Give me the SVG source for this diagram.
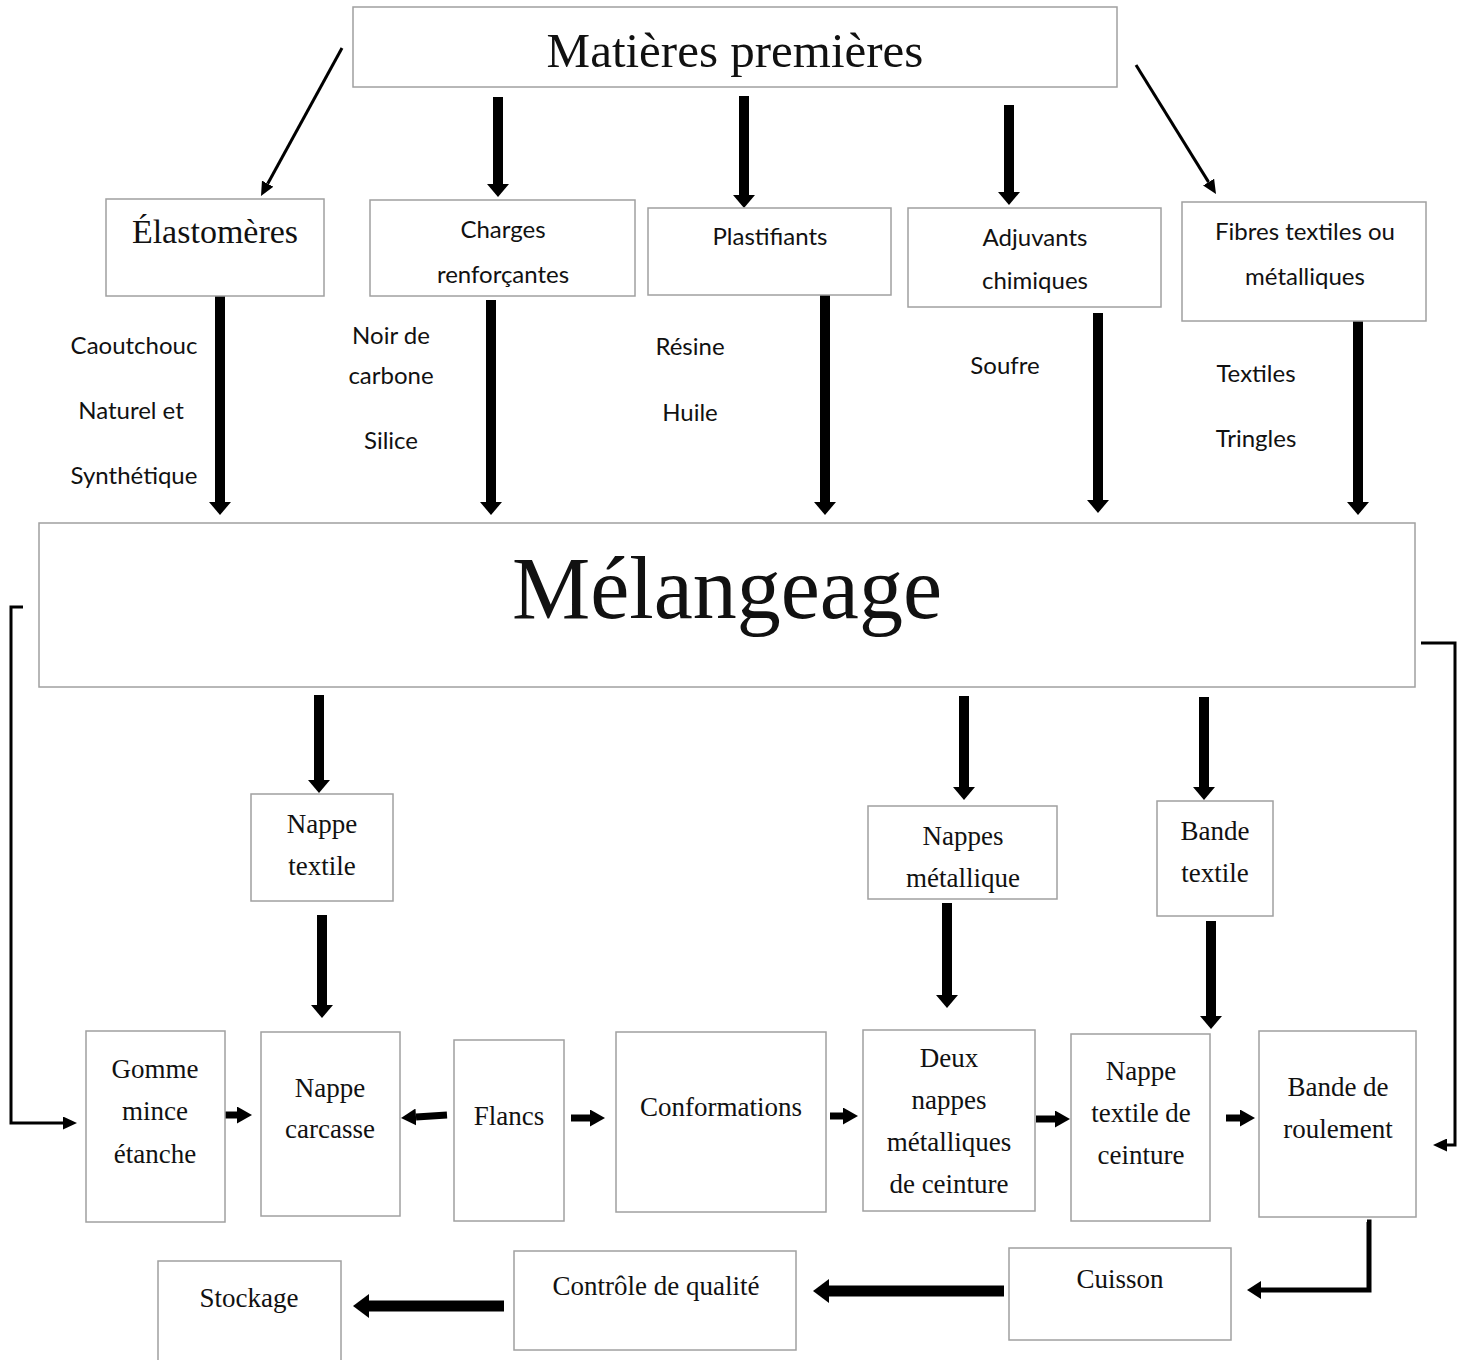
<svg xmlns="http://www.w3.org/2000/svg" width="1464" height="1360" viewBox="0 0 1464 1360">
<style>
.box{fill:#fff;stroke:#a0a0a0;stroke-width:1.5}
.serif{font-family:"Liberation Serif","Times New Roman",serif;fill:#111;text-anchor:middle}
.sans{font-family:Lato,"Liberation Sans",sans-serif;fill:#111;text-anchor:middle;font-size:24px}
.s27{font-size:27px}
.thick{stroke:#000;stroke-width:10;fill:none}
.small{stroke:#000;stroke-width:7;fill:none}
.big{stroke:#000;stroke-width:11;fill:none}
.thin{stroke:#000;stroke-width:3;fill:none}
.mid{stroke:#000;stroke-width:5;fill:none}
</style>
<defs>
<marker id="hThick" markerUnits="userSpaceOnUse" markerWidth="13" markerHeight="22" viewBox="0 0 13 22" refX="0" refY="11" orient="auto"><path d="M0,0 L13,11 L0,22 Z" fill="#000"/></marker>
<marker id="hSmall" markerUnits="userSpaceOnUse" markerWidth="15" markerHeight="17" viewBox="0 0 15 17" refX="0" refY="8.5" orient="auto"><path d="M0,0 L15,8.5 L0,17 Z" fill="#000"/></marker>
<marker id="hBig" markerUnits="userSpaceOnUse" markerWidth="16" markerHeight="24" viewBox="0 0 16 24" refX="0" refY="12" orient="auto"><path d="M0,0 L16,12 L0,24 Z" fill="#000"/></marker>
<marker id="hThin" markerUnits="userSpaceOnUse" markerWidth="14" markerHeight="13" viewBox="0 0 14 13" refX="0" refY="6.5" orient="auto"><path d="M0,0 L14,6.5 L0,13 Z" fill="#000"/></marker>
<marker id="hMid" markerUnits="userSpaceOnUse" markerWidth="14" markerHeight="18" viewBox="0 0 14 18" refX="0" refY="9" orient="auto"><path d="M0,0 L14,9 L0,18 Z" fill="#000"/></marker>
</defs>

<g id="connectors">
<line class="thin" x1="342" y1="48" x2="267.7" y2="183.7" marker-end="url(#hThin)"/>
<line class="thin" x1="1136" y1="65" x2="1208.6" y2="182.1" marker-end="url(#hThin)"/>
<line class="thick" x1="498" y1="97" x2="498" y2="184" marker-end="url(#hThick)"/>
<line class="thick" x1="744" y1="96" x2="744" y2="195" marker-end="url(#hThick)"/>
<line class="thick" x1="1009" y1="105" x2="1009" y2="192" marker-end="url(#hThick)"/>
<line class="thick" x1="220" y1="294" x2="220" y2="502" marker-end="url(#hThick)"/>
<line class="thick" x1="491" y1="300" x2="491" y2="502" marker-end="url(#hThick)"/>
<line class="thick" x1="825" y1="293" x2="825" y2="502" marker-end="url(#hThick)"/>
<line class="thick" x1="1098" y1="313" x2="1098" y2="500" marker-end="url(#hThick)"/>
<line class="thick" x1="1358" y1="315" x2="1358" y2="502" marker-end="url(#hThick)"/>
<line class="thick" x1="319" y1="695" x2="319" y2="780" marker-end="url(#hThick)"/>
<line class="thick" x1="964" y1="696" x2="964" y2="787" marker-end="url(#hThick)"/>
<line class="thick" x1="1204" y1="697" x2="1204" y2="787" marker-end="url(#hThick)"/>
<line class="thick" x1="322" y1="915" x2="322" y2="1005" marker-end="url(#hThick)"/>
<line class="thick" x1="947" y1="903" x2="947" y2="995" marker-end="url(#hThick)"/>
<line class="thick" x1="1211" y1="921" x2="1211" y2="1016" marker-end="url(#hThick)"/>
<polyline class="thin" points="23,607 11,607 11,1123 63,1123" marker-end="url(#hThin)"/>
<polyline class="thin" points="1421,643 1455,643 1455,1145 1447,1145" marker-end="url(#hThin)"/>
<polyline class="mid" points="1367,1222 1369,1222 1369,1290 1261,1290" marker-end="url(#hMid)"/>
<line class="small" x1="220" y1="1115" x2="237" y2="1115" marker-end="url(#hSmall)"/>
<line class="small" x1="447" y1="1115" x2="416" y2="1117" marker-end="url(#hSmall)"/>
<line class="small" x1="571" y1="1118" x2="590" y2="1118" marker-end="url(#hSmall)"/>
<line class="small" x1="830" y1="1116" x2="843" y2="1116" marker-end="url(#hSmall)"/>
<line class="small" x1="1036" y1="1119" x2="1055" y2="1119" marker-end="url(#hSmall)"/>
<line class="small" x1="1226" y1="1118" x2="1240" y2="1118" marker-end="url(#hSmall)"/>
<line class="big" x1="1004" y1="1291" x2="829" y2="1291" marker-end="url(#hBig)"/>
<line class="big" x1="504" y1="1306" x2="369" y2="1306" marker-end="url(#hBig)"/>
</g>

<g id="n-matieres"><rect class="box" x="353" y="7" width="764" height="80"/><text class="serif" x="735" y="67" font-size="49">Matières premières</text></g>
<g id="n-elastomeres"><rect class="box" x="106" y="199" width="218" height="97"/><text class="serif" x="215" y="243" font-size="34">Élastomères</text></g>
<g id="n-charges"><rect class="box" x="370" y="200" width="265" height="96"/><text class="sans" x="503" y="238">Charges</text><text class="sans" x="503" y="283">renforçantes</text></g>
<g id="n-plastifiants"><rect class="box" x="648" y="208" width="243" height="87"/><text class="sans" x="770" y="245">Plastifiants</text></g>
<g id="n-adjuvants"><rect class="box" x="908" y="208" width="253" height="99"/><text class="sans" x="1035" y="246">Adjuvants</text><text class="sans" x="1035" y="289">chimiques</text></g>
<g id="n-fibres"><rect class="box" x="1182" y="202" width="244" height="119"/><text class="sans" x="1305" y="240">Fibres textiles ou</text><text class="sans" x="1305" y="285">métalliques</text></g>

<g id="labels">
<text class="sans" x="134" y="354">Caoutchouc</text>
<text class="sans" x="131" y="419">Naturel et</text>
<text class="sans" x="134" y="484">Synthétique</text>
<text class="sans" x="391" y="344">Noir de</text>
<text class="sans" x="391" y="384">carbone</text>
<text class="sans" x="391" y="449">Silice</text>
<text class="sans" x="690" y="355">Résine</text>
<text class="sans" x="690" y="421">Huile</text>
<text class="sans" x="1005" y="374">Soufre</text>
<text class="sans" x="1256" y="382">Textiles</text>
<text class="sans" x="1256" y="447">Tringles</text>
</g>

<g id="n-melangeage"><rect class="box" x="39" y="523" width="1376" height="164"/><text class="serif" x="727" y="618" font-size="88">Mélangeage</text></g>

<g id="n-nappe-textile"><rect class="box" x="251" y="794" width="142" height="107"/><text class="serif s27" x="322" y="833">Nappe</text><text class="serif s27" x="322" y="875">textile</text></g>
<g id="n-nappes-metallique"><rect class="box" x="868" y="806" width="189" height="93"/><text class="serif s27" x="963" y="845">Nappes</text><text class="serif s27" x="963" y="887">métallique</text></g>
<g id="n-bande-textile"><rect class="box" x="1157" y="801" width="116" height="115"/><text class="serif s27" x="1215" y="840">Bande</text><text class="serif s27" x="1215" y="882">textile</text></g>

<g id="n-gomme"><rect class="box" x="86" y="1031" width="139" height="191"/><text class="serif s27" x="155" y="1078">Gomme</text><text class="serif s27" x="155" y="1120">mince</text><text class="serif s27" x="155" y="1163">étanche</text></g>
<g id="n-nappe-carcasse"><rect class="box" x="261" y="1032" width="139" height="184"/><text class="serif s27" x="330" y="1097">Nappe</text><text class="serif s27" x="330" y="1138">carcasse</text></g>
<g id="n-flancs"><rect class="box" x="454" y="1040" width="110" height="181"/><text class="serif s27" x="509" y="1125">Flancs</text></g>
<g id="n-conformations"><rect class="box" x="616" y="1032" width="210" height="180"/><text class="serif s27" x="721" y="1116">Conformations</text></g>
<g id="n-deux-nappes"><rect class="box" x="863" y="1030" width="172" height="181"/><text class="serif s27" x="949" y="1067">Deux</text><text class="serif s27" x="949" y="1109">nappes</text><text class="serif s27" x="949" y="1151">métalliques</text><text class="serif s27" x="949" y="1193">de ceinture</text></g>
<g id="n-nappe-textile-ceinture"><rect class="box" x="1071" y="1034" width="139" height="187"/><text class="serif s27" x="1141" y="1080">Nappe</text><text class="serif s27" x="1141" y="1122">textile de</text><text class="serif s27" x="1141" y="1164">ceinture</text></g>
<g id="n-bande-roulement"><rect class="box" x="1259" y="1031" width="157" height="186"/><text class="serif s27" x="1338" y="1096">Bande de</text><text class="serif s27" x="1338" y="1138">roulement</text></g>

<g id="n-stockage"><rect class="box" x="158" y="1261" width="183" height="110"/><text class="serif s27" x="249" y="1307">Stockage</text></g>
<g id="n-controle"><rect class="box" x="514" y="1251" width="282" height="99"/><text class="serif s27" x="656" y="1295">Contrôle de qualité</text></g>
<g id="n-cuisson"><rect class="box" x="1009" y="1248" width="222" height="92"/><text class="serif s27" x="1120" y="1288">Cuisson</text></g>
</svg>
